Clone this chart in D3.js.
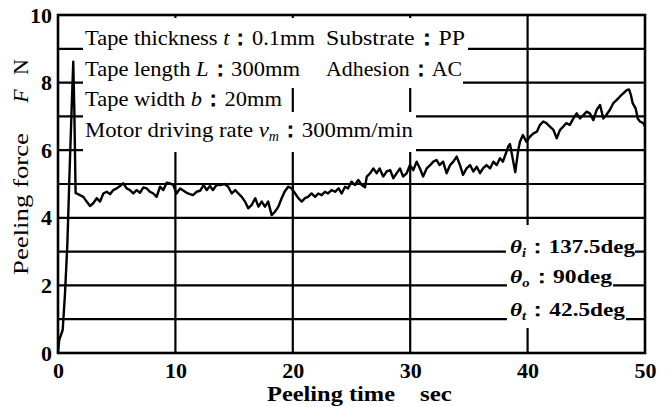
<!DOCTYPE html>
<html><head><meta charset="utf-8">
<script src="https://cdn.jsdelivr.net/npm/d3@7"></script>
<style>body{margin:0;background:#fff}svg{display:block}</style>
</head><body>
<svg id="c" width="670" height="407"></svg>
<script>
// ---------------- data ----------------
const time = [0,0.1,0.4,0.6,0.8,0.97,1.16,1.3,1.39,1.5,1.6,1.87,2.16,2.44,2.73,3.0,3.3,3.58,3.86,4.15,4.43,4.71,5.0,5.28,5.56,5.85,6.13,6.41,6.7,6.98,7.27,7.55,7.84,8.12,8.4,8.69,8.97,9.26,9.54,9.82,10.1,10.4,10.7,10.96,11.24,11.5,11.8,12.1,12.4,12.67,12.95,13.2,13.5,13.8,14.2,14.5,14.8,15.1,15.36,15.65,15.93,16.2,16.5,16.8,17.07,17.35,17.63,17.9,18.2,18.48,18.77,19.05,19.3,19.6,19.9,20.2,20.47,20.76,21.04,21.3,21.6,21.9,22.17,22.46,22.74,23.0,23.3,23.6,23.9,24.16,24.45,24.7,25.0,25.3,25.58,25.87,26.15,26.3,26.6,26.86,27.15,27.4,27.7,28.0,28.3,28.56,28.85,29.13,29.4,29.7,29.98,30.26,30.55,30.83,31.1,31.4,31.7,31.97,32.25,32.5,32.8,33.1,33.4,33.67,33.96,34.24,34.5,34.8,35.1,35.38,35.67,35.95,36.2,36.5,36.8,37.08,37.37,37.65,37.9,38.2,38.36,38.5,38.7,38.95,39.2,39.35,39.6,39.9,40.2,40.5,40.8,41.06,41.34,41.6,41.9,42.2,42.48,42.76,43.04,43.3,43.6,43.9,44.18,44.46,44.75,45.03,45.3,45.6,45.88,46.17,46.45,46.7,47.0,47.3,47.6,47.87,48.15,48.44,48.64,48.8,48.95,49.2,49.38,49.57,49.86,50];
const force = [0,0.38,0.68,1.78,3.25,5.2,7.2,8.62,7.2,4.73,4.72,4.67,4.62,4.48,4.35,4.43,4.58,4.48,4.72,4.77,4.7,4.82,4.87,4.94,5.02,4.87,4.82,4.72,4.82,4.74,4.9,4.87,4.77,4.72,4.62,4.92,4.82,5.04,5.02,4.97,4.72,4.87,4.8,4.74,4.7,4.67,4.77,4.8,4.97,4.82,4.94,4.82,4.97,4.97,5.0,4.92,4.72,4.82,4.72,4.62,4.48,4.28,4.38,4.58,4.33,4.48,4.33,4.48,4.08,4.18,4.33,4.58,4.77,4.92,4.87,4.72,4.58,4.48,4.58,4.62,4.72,4.62,4.72,4.67,4.77,4.72,4.82,4.77,4.87,4.72,4.92,4.87,5.07,4.97,5.12,4.97,4.9,5.22,5.32,5.46,5.32,5.46,5.22,5.37,5.41,5.17,5.32,5.46,5.22,5.32,5.56,5.41,5.66,5.46,5.22,5.46,5.56,5.66,5.71,5.56,5.66,5.32,5.56,5.66,5.81,5.56,5.27,5.46,5.56,5.37,5.51,5.32,5.46,5.56,5.46,5.66,5.56,5.76,5.66,5.96,6.12,6.18,5.81,5.35,6.0,6.25,6.45,6.25,6.4,6.5,6.55,6.75,6.85,6.8,6.7,6.6,6.35,6.6,6.7,6.8,6.75,6.94,7.09,6.94,7.04,7.14,7.09,6.89,7.19,7.34,6.94,7.04,7.19,7.39,7.49,7.59,7.68,7.78,7.8,7.63,7.39,7.24,6.94,6.85,6.8,6.7];
const xTicks = [0,10,20,30,40,50];
const yTicks = [0,2,4,6,8,10];
const xGridValues = [10,20,30,40];
const yGridValues = [1,2,3,4,5,6,7,8,9];
const xTitle = ["Peeling time", "sec"];
const yTitle = ["Peeling force", "F", "N"];
// text segments: [text, style] style 0=normal 1=italic 2=italic subscript 3=bold colon
const infoLeft = [
  [["Tape thickness ",0],["t",1],["：",3],["0.1mm",0]],
  [["Tape length ",0],["L",1],["：",3],["300mm",0]],
  [["Tape width ",0],["b",1],["：",3],["20mm",0]],
  [["Motor driving rate ",0],["v",1],["m",2],["：",3],["300mm/min",0]]
];
const infoRight = [
  [["Substrate",0],["：",3],["PP",0]],
  [["Adhesion",0],["：",3],["AC",0]]
];
const angleInfo = [
  [["θ",1],["i",2],["：",3],["137.5deg",0]],
  [["θ",1],["o",2],["：",3],["90deg",0]],
  [["θ",1],["t",2],["：",3],["42.5deg",0]]
];

// ---------------- layout ----------------
const svg = d3.select("#c");
const L = 58, R = 645, T = 15, B = 353;
const x = d3.scaleLinear().domain([0,50]).range([L,R]);
const y = d3.scaleLinear().domain([0,10]).range([B,T]);
const serif = "'Liberation Serif','Times New Roman',serif";

// grid
svg.append("g").selectAll("line").data(yGridValues).join("line")
  .attr("x1",L).attr("x2",R).attr("y1",d=>y(d)).attr("y2",d=>y(d))
  .attr("stroke","#000").attr("stroke-width",2.2);
svg.append("g").selectAll("line").data(xGridValues).join("line")
  .attr("x1",d=>x(d)).attr("x2",d=>x(d)).attr("y1",T).attr("y2",B)
  .attr("stroke","#000").attr("stroke-width",2.2);

// white boxes behind annotation text
const boxes = [
  [83,18,468,51],[83,51,463,88],[83,88,289,112],[83,112,416,152],
  [506,225,635,262],[507,262,613,296],[507,296,626,328]
];
svg.append("g").selectAll("rect").data(boxes).join("rect")
  .attr("x",d=>d[0]).attr("y",d=>d[1]).attr("width",d=>d[2]-d[0]).attr("height",d=>d[3]-d[1])
  .attr("fill","#fff");

function writeSegs(sel, segs, size){
  let down = false;
  segs.forEach(s=>{
    const ts = sel.append("tspan").text(s[0]);
    if (s[1]===1) ts.attr("font-style","italic");
    if (s[1]===3) ts.attr("font-weight","bold");
    if (s[1]===2) { ts.attr("font-style","italic").attr("font-size",size*0.62).attr("dy",4); down = true; }
    else if (down) { ts.attr("dy",-4); down = false; }
  });
}
function infoText(segs, x0, base, len, size, weight){
  const t = svg.append("text").attr("x",x0).attr("y",base)
    .attr("font-family",serif).attr("font-size",size).attr("font-weight",weight||"normal").attr("fill","#000");
  writeSegs(t, segs, size);
  t.attr("textLength",len).attr("lengthAdjust","spacingAndGlyphs");
  return t;
}
const leftBase = [45,76,106,137], leftLen = [230,215,197,328];
infoLeft.forEach((s,i)=>infoText(s,85,leftBase[i],leftLen[i],22));
const rightLen = [139,136];
infoRight.forEach((s,i)=>infoText(s,326,leftBase[i],rightLen[i],22));
const angBase = [253,283,316], angLen = [125,102,115];
angleInfo.forEach((s,i)=>infoText(s,510,angBase[i],angLen[i],19,"bold"));

// frame
svg.append("rect").attr("x",L).attr("y",T).attr("width",R-L).attr("height",B-T)
  .attr("fill","none").attr("stroke","#000").attr("stroke-width",2.6);

// data line
svg.append("path").datum(time.map((t,i)=>[t,force[i]]))
  .attr("d", d3.line().x(d=>x(d[0])).y(d=>y(d[1])))
  .attr("fill","none").attr("stroke","#000").attr("stroke-width",2.4).attr("stroke-linejoin","round");

// axes (labels only)
const ax = svg.append("g").attr("transform",`translate(0,${B})`)
  .call(d3.axisBottom(x).tickValues(xTicks).tickSize(0).tickPadding(9).tickFormat(d3.format("d")));
const ay = svg.append("g").attr("transform",`translate(${L},0)`)
  .call(d3.axisLeft(y).tickValues(yTicks).tickSize(0).tickPadding(6).tickFormat(d3.format("d")));
[ax,ay].forEach(a=>{
  a.select(".domain").remove();
  a.selectAll("text").attr("font-family",serif).attr("font-size",22).attr("font-weight","bold").attr("fill","#000");
});

// titles
svg.append("text").attr("x",267).attr("y",401).attr("font-family",serif).attr("font-size",21).attr("font-weight","bold")
  .attr("textLength",128).attr("lengthAdjust","spacingAndGlyphs").text(xTitle[0]);
svg.append("text").attr("x",420).attr("y",401).attr("font-family",serif).attr("font-size",21).attr("font-weight","bold")
  .attr("textLength",32).attr("lengthAdjust","spacingAndGlyphs").text(xTitle[1]);
svg.append("text").attr("transform","translate(28,275) rotate(-90)").attr("font-family",serif).attr("font-size",22)
  .attr("textLength",142).attr("lengthAdjust","spacingAndGlyphs").text(yTitle[0]);
svg.append("text").attr("transform","translate(28,96) rotate(-90)").attr("text-anchor","middle").attr("font-family",serif).attr("font-size",22).attr("font-style","italic").text(yTitle[1]);
svg.append("text").attr("transform","translate(28,67) rotate(-90)").attr("text-anchor","middle").attr("font-family",serif).attr("font-size",22).text(yTitle[2]);
</script>
</body></html>
